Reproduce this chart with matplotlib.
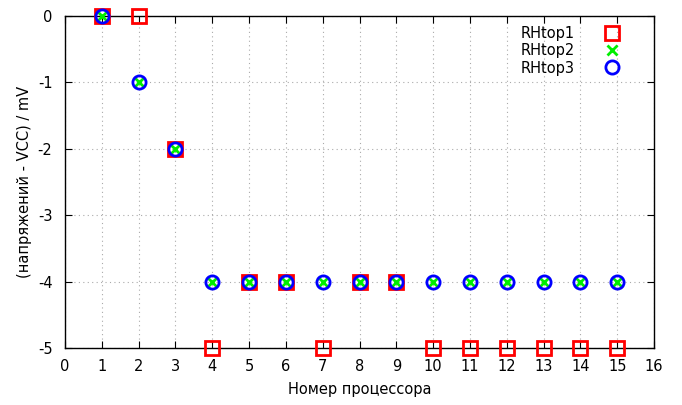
import matplotlib
matplotlib.use("Agg")
import matplotlib.pyplot as plt

procs = list(range(1, 16))
rhtop1 = [0, 0, -2, -5, -4, -4, -5, -4, -4, -5, -5, -5, -5, -5, -5]
rhtop2 = [0, -1, -2, -4, -4, -4, -4, -4, -4, -4, -4, -4, -4, -4, -4]
rhtop3 = [0, -1, -2, -4, -4, -4, -4, -4, -4, -4, -4, -4, -4, -4, -4]
xticks = list(range(0, 17))
yticks = [0, -1, -2, -3, -4, -5]

plt.rcParams['font.family'] = 'DejaVu Sans'
fig = plt.figure(figsize=(6.82, 4.05), dpi=100)
ax = fig.add_axes([0.0953, 0.1407, 0.8637, 0.8198])

ax.plot(procs, rhtop1, linestyle='none', marker='s', markersize=9.5, markerfacecolor='none',
        markeredgecolor='#ff0000', markeredgewidth=2, label='RHtop1', clip_on=False, zorder=3)
ax.plot(procs, rhtop2, linestyle='none', marker='x', markersize=7.5, color='#00ee00',
        markeredgewidth=2, label='RHtop2', clip_on=False, zorder=4)
ax.plot(procs, rhtop3, linestyle='none', marker='o', markersize=9.5, markerfacecolor='none',
        markeredgecolor='#0000ff', markeredgewidth=2, label='RHtop3', clip_on=False, zorder=5)

ax.set_xlim(0, 16)
ax.set_ylim(-5, 0)
ax.set_xticks(xticks)
ax.set_yticks(yticks)
ax.set_yticklabels([str(v) for v in yticks])
ax.tick_params(direction='in', top=True, right=True, length=5, labelsize=10.5)
ax.tick_params(axis='x', pad=8)
ax.tick_params(axis='y', pad=9)
ax.grid(True, linestyle=(0, (1, 3)), color='#aaaaaa', linewidth=0.8)
for s in ax.spines.values():
    s.set_linewidth(1.0)
ax.set_xlabel('Номер процессора', fontsize=10.5, labelpad=6)
ax.set_ylabel('(напряжений - VCC) / mV', fontsize=10.5, labelpad=4)

leg = ax.legend(loc='upper right', frameon=False, markerfirst=False, fontsize=10.5,
                handletextpad=1.5, borderaxespad=0.3, labelspacing=0.15,
                bbox_to_anchor=(0.97, 1.0))

fig.savefig('out.png', dpi=100)
